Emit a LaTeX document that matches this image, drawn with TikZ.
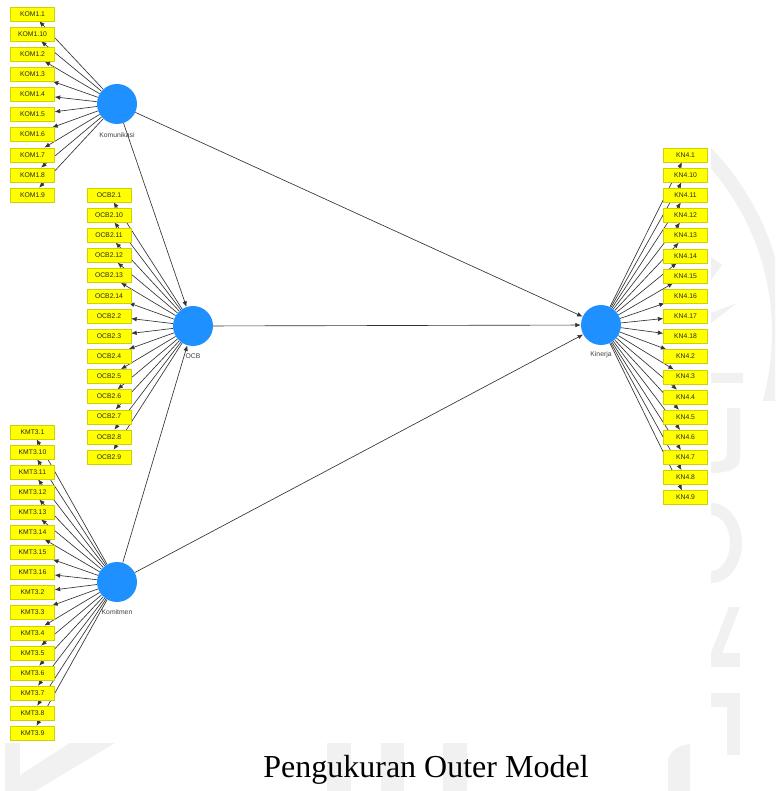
\documentclass[tikz,border=0pt]{standalone}
\usepackage{fontspec}
\setmainfont{Liberation Serif}
\newfontfamily\plsfont{Liberation Sans}
\usetikzlibrary{arrows.meta,backgrounds}
\definecolor{lvblue}{RGB}{30,144,255}
\definecolor{indyellow}{RGB}{255,255,0}
\definecolor{wmgray}{RGB}{241,241,241}

\begin{document}
\begin{tikzpicture}[x=1pt,y=-1pt,
  latent/.style={circle,fill=lvblue,minimum size=40pt,inner sep=0pt},
  indicator/.style={rectangle,fill=indyellow,draw=indyellow!82!black,line width=0.3pt,
    minimum width=44pt,minimum height=14pt,inner sep=0pt,
    font=\plsfont\fontsize{6.8}{7}\selectfont,text=black!85},
  lvlabel/.style={font=\plsfont\fontsize{6.8}{8}\selectfont,text=black!75},
  link/.style={draw=black!80,line width=0.65pt,-{Latex[length=5.5pt,width=4.5pt]}},
  mark watermark/.style={fill=wmgray}]
\useasboundingbox (0,0) rectangle (775,791);

% latent variables
\node[latent] (kom) at (117,104) {};
\node[latent] (ocb) at (193,326) {};
\node[latent] (kmt) at (117,582) {};
\node[latent] (kin) at (601,325) {};
\node[lvlabel] (komlab) at (117,135) {Komunikasi};
\node[lvlabel] (ocblab) at (193,356) {OCB};
\node[lvlabel] (kmtlab) at (117,612) {Komitmen};
\node[lvlabel] (kinlab) at (601,355) {Kinerja};

% indicators
\foreach \lab [count=\i from 0] in {1,10,2,3,4,5,6,7,8,9}
  \node[indicator] (kom\i) at (32.5,14+20.1*\i) {KOM1.\lab};
\foreach \lab [count=\i from 0] in {1,10,11,12,13,14,2,3,4,5,6,7,8,9}
  \node[indicator] (ocb\i) at (109,195+20.15*\i) {OCB2.\lab};
\foreach \lab [count=\i from 0] in {1,10,11,12,13,14,15,16,2,3,4,5,6,7,8,9}
  \node[indicator] (kmt\i) at (32.5,432+20.07*\i) {KMT3.\lab};
\foreach \lab [count=\i from 0] in {1,10,11,12,13,14,15,16,17,18,2,3,4,5,6,7,8,9}
  \node[indicator] (kin\i) at (685.5,155+20.15*\i) {KN4.\lab};

% caption
\node[font=\fontsize{32}{38}\selectfont,anchor=base] (title) at (426,777) {Pengukuran Outer Model};

\begin{pgfonlayer}{background}
  \fill[white] (0,0) rectangle (775,791);
  % faint logo in the page background
  \begin{scope}
    \clip (711,0) rectangle (775,400);
    \fill[mark watermark,even odd rule] (520,333) circle (266) (520,333) circle (252);
  \end{scope}
  \fill[mark watermark] (711,257) -- (722,265) -- (711,280) -- cycle;
  \fill[mark watermark] (711,313) -- (737,303) -- (711,323) -- cycle;
  \fill[mark watermark] (711,373) rectangle (743,383);
  \fill[mark watermark] (727,408) -- (740,408) -- (740,458) .. controls (740,468) and (730,473) .. (711,473) -- (711,462) .. controls (722,462) and (727,460) .. (727,452) -- cycle;
  \fill[mark watermark,even odd rule] (711,543) ellipse (31 and 40) (711,543) ellipse (19 and 28);
  \fill[mark watermark] (729,607) -- (740,607) -- (722,653) -- (711,653) -- cycle;
  \fill[mark watermark] (711,653) rectangle (740,667);
  \fill[mark watermark] (711,693) rectangle (740,707);
  \fill[mark watermark] (727,693) rectangle (740,755);
  \fill[mark watermark] (668,791) -- (668,760) .. controls (670,750) and (680,745) .. (690,744) -- (690,791) -- cycle;
  \fill[mark watermark] (5,743) rectangle (20,791);
  \fill[mark watermark] (70,743) -- (115,743) -- (35,791) -- (20,791) -- (20,775) -- cycle;
  \fill[mark watermark] (327,743) rectangle (351,791);
  \fill[mark watermark] (381,743) rectangle (404,791);
  \fill[mark watermark] (443,743) rectangle (467,791);
  % drawing panel
  \fill[white] (0,0) rectangle (711,743);

  % structural paths
  \draw[link] (kom) -- (ocb);
  \draw[link] (kom) -- (kin);
  \draw[link] (ocb) -- (kin);
  \draw[link] (kmt) -- (ocb);
  \draw[link] (kmt) -- (kin);

  % measurement paths
  \foreach \i in {0,...,9} \draw[link] (kom) -- (kom\i);
  \foreach \i in {0,...,13} \draw[link] (ocb) -- (ocb\i);
  \foreach \i in {0,...,15} \draw[link] (kmt) -- (kmt\i);
  \foreach \i in {0,...,17} \draw[link] (kin) -- (kin\i);
\end{pgfonlayer}
\end{tikzpicture}
\end{document}
